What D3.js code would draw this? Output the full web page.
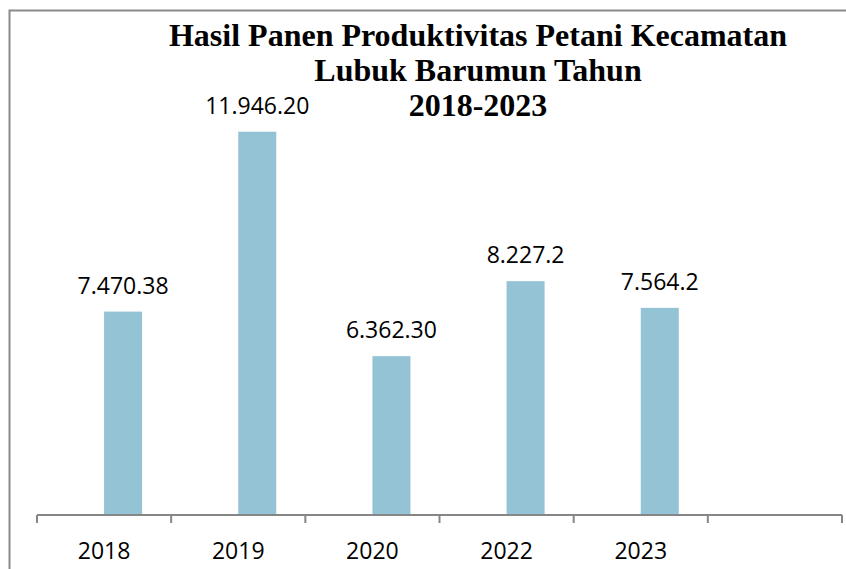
<!DOCTYPE html>
<html lang="id">
  <head>
    <meta charset="UTF-8" />
    <title>Hasil Panen Produktivitas Petani Kecamatan Lubuk Barumun</title>
    <script src="https://d3js.org/d3.v7.min.js"></script>
    <style>
      body {
        margin: 0;
        background: #fff;
      }
      svg {
        display: block;
      }
      .lbl {
        font-family: 'Open Sans', sans-serif;
        font-size: 23px;
        fill: #000;
      }
      .title {
        font-family: 'Liberation Serif', 'Times New Roman', serif;
        font-weight: bold;
        font-size: 32px;
        fill: #000;
      }
    </style>
  </head>
  <body>
    <svg width="846" height="569"></svg>

    <script>
      // data
      const years = ['2018', '2019', '2020', '2022', '2023'];
      const values = [7470.38, 11946.2, 6362.3, 8227.2, 7564.2];
      const valueLabels = ['7.470.38', '11.946.20', '6.362.30', '8.227.2', '7.564.2'];
      const titleLines = [
        'Hasil Panen Produktivitas Petani Kecamatan',
        'Lubuk Barumun Tahun',
        '2018-2023',
      ];

      const svg = d3.select('svg');

      // outer frame (only top and left visible)
      svg
        .append('rect')
        .attr('x', 9.5)
        .attr('y', 10.5)
        .attr('width', 900)
        .attr('height', 600)
        .attr('fill', 'none')
        .attr('stroke', '#8a8a8a')
        .attr('stroke-width', 2);

      // last band is an empty category
      const x = d3
        .scaleBand()
        .domain([...years, ''])
        .range([37, 842])
        .padding(0);

      // the bar sits in the right half of each band
      const xSub = d3
        .scaleBand()
        .domain(['empty', 'value'])
        .range([0, x.bandwidth()])
        .paddingInner(0)
        .paddingOuter(0.765);

      // hidden value axis, not starting at zero
      const y = d3.scaleLinear().domain([2410, 11946.2]).range([515, 131.7]);

      const data = years.map((d, i) => ({
        year: d,
        value: values[i],
        label: valueLabels[i],
      }));

      svg
        .selectAll('rect.bar')
        .data(data)
        .join('rect')
        .attr('class', 'bar')
        .attr('x', (d) => x(d.year) + xSub('value'))
        .attr('y', (d) => y(d.value))
        .attr('width', xSub.bandwidth())
        .attr('height', (d) => y.range()[0] - y(d.value))
        .attr('fill', '#93c3d5');

      svg
        .selectAll('text.val')
        .data(data)
        .join('text')
        .attr('class', 'lbl val')
        .attr('x', (d) => x(d.year) + xSub('value') + xSub.bandwidth() / 2)
        .attr('y', (d) => y(d.value) - 18)
        .attr('text-anchor', 'middle')
        .text((d) => d.label);

      // category axis
      const axis = svg
        .append('g')
        .attr('transform', `translate(0,${y.range()[0]})`);

      axis
        .append('line')
        .attr('x1', x.range()[0])
        .attr('x2', x.range()[1])
        .attr('stroke', '#868686')
        .attr('stroke-width', 2);

      const edges = [...x.domain().map((d) => x(d)), x.range()[1]];
      axis
        .selectAll('line.tick')
        .data(edges)
        .join('line')
        .attr('class', 'tick')
        .attr('x1', (d) => d)
        .attr('x2', (d) => d)
        .attr('y1', 0)
        .attr('y2', 8)
        .attr('stroke', '#868686')
        .attr('stroke-width', 2);

      axis
        .selectAll('text.cat')
        .data(years)
        .join('text')
        .attr('class', 'lbl cat')
        .attr('x', (d) => x(d) + x.bandwidth() / 2)
        .attr('y', 44)
        .attr('text-anchor', 'middle')
        .text((d) => d);

      // title
      svg
        .selectAll('text.title')
        .data(titleLines)
        .join('text')
        .attr('class', 'title')
        .attr('x', 478)
        .attr('y', (d, i) => 46 + i * 35)
        .attr('text-anchor', 'middle')
        .text((d) => d);
    </script>
  </body>
</html>
